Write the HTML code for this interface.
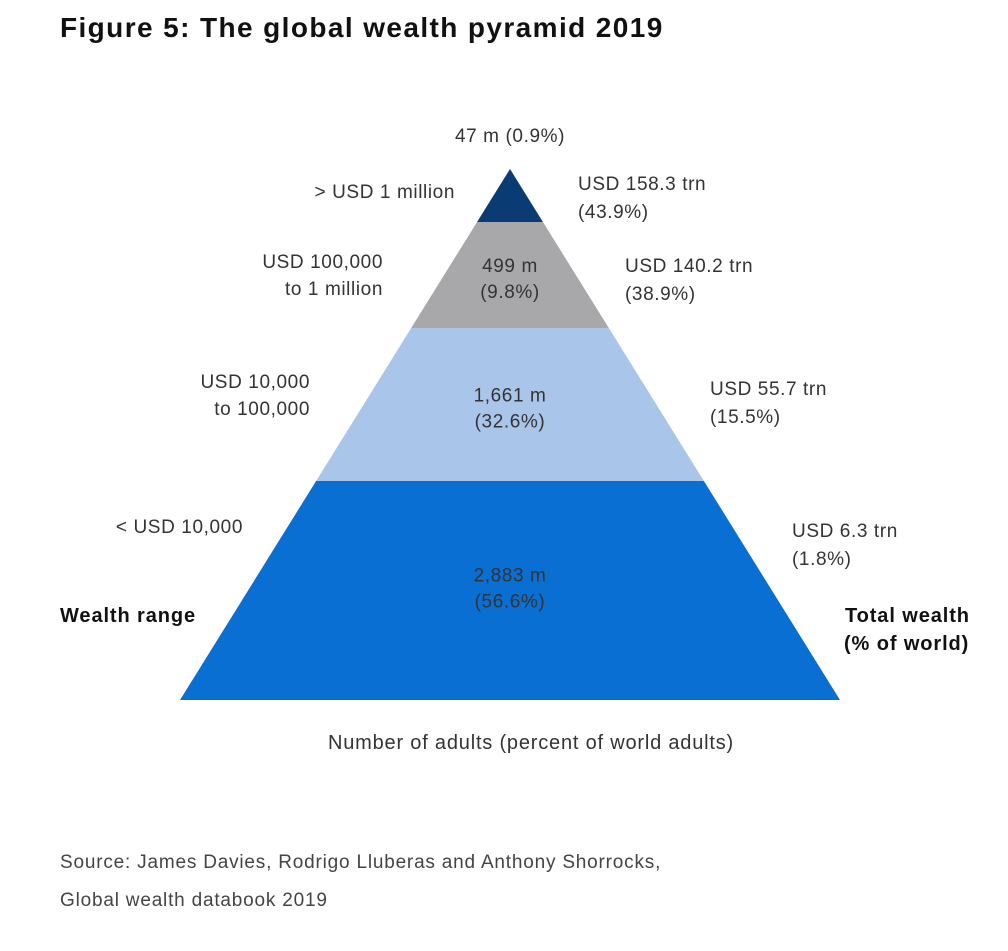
<!DOCTYPE html>
<html><head><meta charset="utf-8"><style>
body{margin:0;background:#fff;}
svg{display:block;font-family:"Liberation Sans",sans-serif;}
</style></head><body>
<svg id="chart" width="1008" height="951" viewBox="0 0 1008 951">
<text x="60" y="37" font-size="28" font-weight="bold" letter-spacing="1.4" fill="#111">Figure 5: The global wealth pyramid 2019</text>
<g id="bands"></g>
<text x="60" y="622" font-size="20" letter-spacing="0.9" font-weight="bold" fill="#111">Wealth range</text>
<text x="845" y="622" font-size="20" letter-spacing="0.9" font-weight="bold" fill="#111">Total wealth</text>
<text x="844" y="650" font-size="20" letter-spacing="0.9" font-weight="bold" fill="#111">(% of world)</text>
<text x="531" y="749" font-size="20" letter-spacing="0.8" fill="#333" text-anchor="middle">Number of adults (percent of world adults)</text>
<text x="60" y="868" font-size="19" letter-spacing="0.8" fill="#444">Source: James Davies, Rodrigo Lluberas and Anthony Shorrocks,</text>
<text x="60" y="906" font-size="19" letter-spacing="0.8" fill="#444">Global wealth databook 2019</text>
</svg>
<script>
const categories=["> USD 1 million","USD 100,000|to 1 million","USD 10,000|to 100,000","<  USD 10,000"];
const adults=["47 m","499 m","1,661 m","2,883 m"];
const adultShares=["0.9%","9.8%","32.6%","56.6%"];
const wealth=["USD 158.3 trn","USD 140.2 trn","USD 55.7 trn","USD 6.3 trn"];
const wealthShares=["43.9%","38.9%","15.5%","1.8%"];
const colors=["#0b3b73","#a8a8aa","#a9c5ea","#0a6fd2"];
const ns="http://www.w3.org/2000/svg";
const apexX=510,apexY=169,baseY=700,baseHalf=330;
const bounds=[169,222,328,481,700];
function halfW(y){return (y-apexY)/(baseY-apexY)*baseHalf;}
const g=document.getElementById('bands');
function txt(x,y,s,anchor,name,fill){
  const t=document.createElementNS(ns,'text');
  t.setAttribute('x',x);t.setAttribute('y',y);t.setAttribute('font-size','19');
  t.setAttribute('letter-spacing','0.6');
  t.setAttribute('fill',fill||'#333');t.setAttribute('text-anchor',anchor);
  t.textContent=s;
  
  
  g.appendChild(t);
}
for(let i=0;i<categories.length;i++){
  const y0=bounds[i],y1=bounds[i+1];
  const p=document.createElementNS(ns,'polygon');
  const a=halfW(y0),b=halfW(y1);
  p.setAttribute('points',`${apexX-a},${y0} ${apexX+a},${y0} ${apexX+b},${y1} ${apexX-b},${y1}`);
  p.setAttribute('fill',colors[i]);
  
  
  g.appendChild(p);
  const mid=(y0+y1)/2;
  if(i===0){
    txt(apexX,142,`${adults[i]} (${adultShares[i]})`,'middle','adults-label-1');
  } else {
    const cy=i===3?mid-6:mid;
    txt(apexX,cy-3,adults[i],'middle','adults-label-'+(i+1),'#333');
    txt(apexX,cy+23,`(${adultShares[i]})`,'middle','adults-share-label-'+(i+1),'#333');
  }
  const lines=categories[i].split('|');
  const lx=[455,383,310,243][i];
  const ly=[198,268,388,533][i];
  lines.forEach((l,k)=>txt(lx,ly+k*27,l,'end','wealth-range-label-'+(i+1)));
  const rx=[578,625,710,792][i];
  const ry=[190,272,395,537][i];
  txt(rx,ry,wealth[i],'start','total-wealth-label-'+(i+1));
  txt(rx,ry+28,`(${wealthShares[i]})`,'start','total-wealth-share-'+(i+1));
}
</script>
</body></html>
